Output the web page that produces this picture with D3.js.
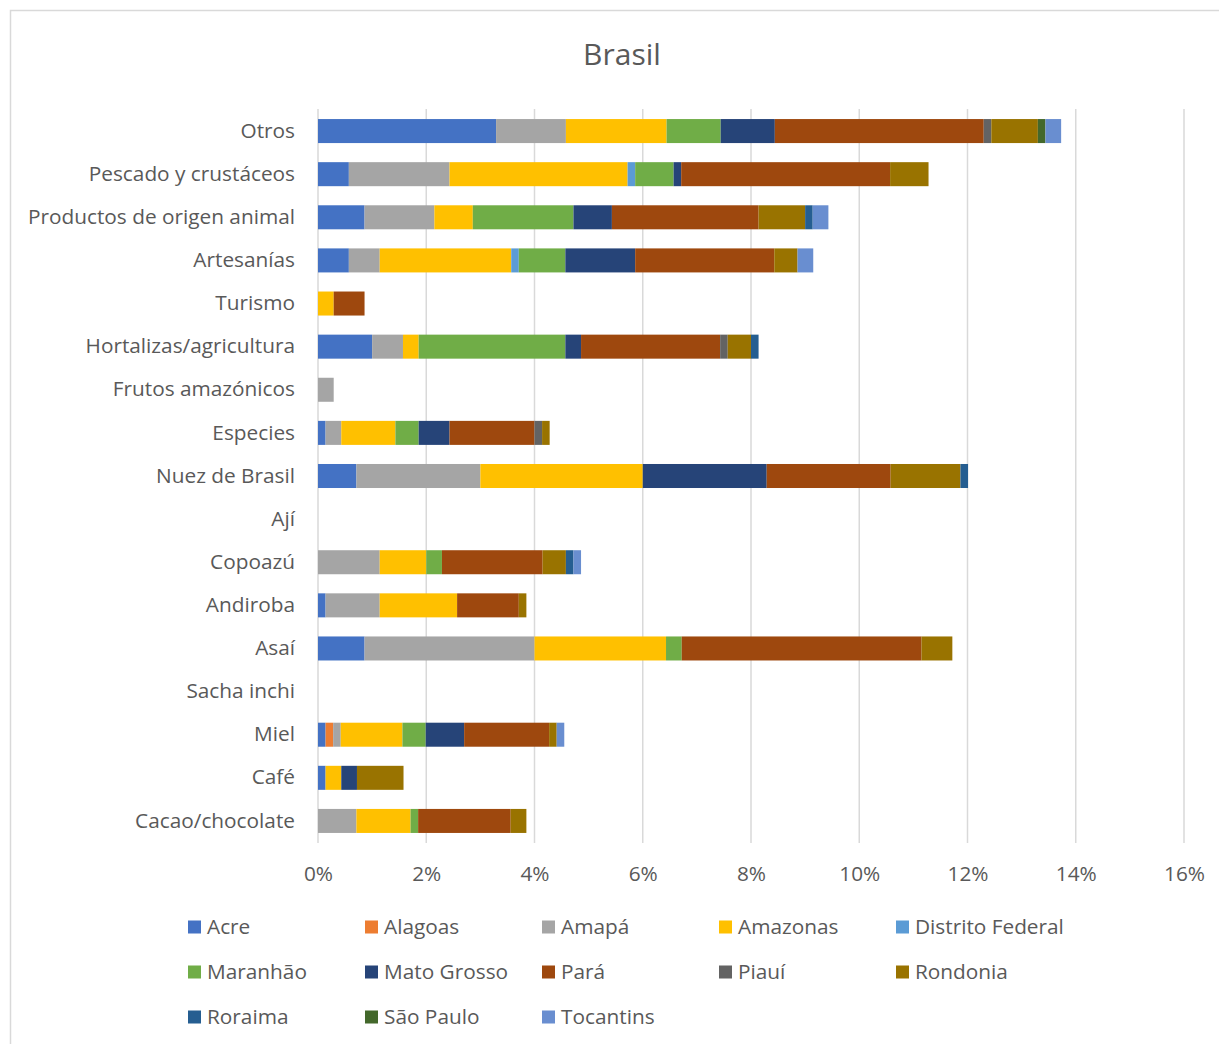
<!DOCTYPE html>
<html><head><meta charset="utf-8">
<script src="https://cdn.jsdelivr.net/npm/d3@7"></script>
<style>body{margin:0;background:#fff;} text{font-family:"Open Sans",sans-serif;fill:#595959;}</style>
</head><body>
<svg id="c" width="1219" height="1044"></svg>
<script>
const categories = ["Otros","Pescado y crustáceos","Productos de origen animal","Artesanías","Turismo","Hortalizas/agricultura","Frutos amazónicos","Especies","Nuez de Brasil","Ají","Copoazú","Andiroba","Asaí","Sacha inchi","Miel","Café","Cacao/chocolate"];
const states = ["Acre","Alagoas","Amapá","Amazonas","Distrito Federal","Maranhão","Mato Grosso","Pará","Piauí","Rondonia","Roraima","São Paulo","Tocantins"];
const colors = ["#4472C4","#ED7D31","#A5A5A5","#FFC000","#5B9BD5","#70AD47","#264478","#9E480E","#636363","#997300","#255E91","#43682B","#698ED0"];
// values in %, one per category (same order as categories)
const acre        = [3.29,0.57,0.86,0.57,0,1.00,0,0.14,0.71,0,0,0.14,0.86,0,0.14,0.14,0];
const alagoas     = [0,0,0,0,0,0,0,0,0,0,0,0,0,0,0.14,0,0];
const amapa       = [1.29,1.86,1.29,0.57,0,0.57,0.29,0.29,2.29,0,1.14,1.00,3.14,0,0.14,0,0.71];
const amazonas    = [1.86,3.29,0.71,2.43,0.29,0.29,0,1.00,3.00,0,0.86,1.43,2.43,0,1.14,0.29,1.00];
const distrito    = [0,0.14,0,0.14,0,0,0,0,0,0,0,0,0,0,0,0,0];
const maranhao    = [1.00,0.71,1.86,0.86,0,2.71,0,0.43,0,0,0.29,0,0.29,0,0.43,0,0.14];
const matoGrosso  = [1.00,0.14,0.71,1.29,0,0.29,0,0.57,2.29,0,0,0,0,0,0.71,0.29,0];
const para        = [3.86,3.86,2.71,2.57,0.57,2.57,0,1.57,2.29,0,1.86,1.14,4.43,0,1.57,0,1.71];
const piaui       = [0.14,0,0,0,0,0.14,0,0.14,0,0,0,0,0,0,0,0,0];
const rondonia    = [0.86,0.71,0.86,0.43,0,0.43,0,0.14,1.29,0,0.43,0.14,0.57,0,0.14,0.86,0.29];
const roraima     = [0,0,0.14,0,0,0.14,0,0,0.14,0,0.14,0,0,0,0,0,0];
const saoPaulo    = [0.14,0,0,0,0,0,0,0,0,0,0,0,0,0,0,0,0];
const tocantins   = [0.29,0,0.29,0.29,0,0,0,0,0,0,0.14,0,0,0,0.14,0,0];
const seriesValues = [acre,alagoas,amapa,amazonas,distrito,maranhao,matoGrosso,para,piaui,rondonia,roraima,saoPaulo,tocantins];
const xTicks = [0,2,4,6,8,10,12,14,16];
const tickLabels = ["0%","2%","4%","6%","8%","10%","12%","14%","16%"];
const title = "Brasil";

const FONT = "'Open Sans',sans-serif";
const svg = d3.select("#c");
svg.append("rect").attr("x",10.5).attr("y",10.5).attr("width",1215).attr("height",1050)
  .attr("fill","#fff").attr("stroke","#d9d9d9").attr("stroke-width",1.5);

const x = d3.scaleLinear().domain([0,16]).range([318,1184]);
const y = d3.scaleBand().domain(categories).range([109.5,842.5]).paddingInner(0.443).paddingOuter(0.2215);

// gridlines
svg.append("g").selectAll("line").data(xTicks).join("line")
  .attr("x1",d=>x(d)).attr("x2",d=>x(d)).attr("y1",109).attr("y2",843)
  .attr("stroke","#d9d9d9").attr("stroke-width",1.5);

// stacked data
const table = categories.map((c,i)=>{const o={cat:c}; states.forEach((s,j)=>o[s]=seriesValues[j][i]); return o;});
const stack = d3.stack().keys(states)(table);
const color = d3.scaleOrdinal().domain(states).range(colors);

svg.append("g").selectAll("g").data(stack).join("g").attr("fill",d=>color(d.key))
  .selectAll("rect").data(d=>d.filter(p=>p[1]-p[0]>0)).join("rect")
  .attr("x",d=>x(d[0])).attr("width",d=>x(d[1])-x(d[0]))
  .attr("y",d=>y(d.data.cat)).attr("height",y.bandwidth());

// category labels
const yAxis = d3.axisLeft(y).tickSize(0).tickPadding(0);
const ya = svg.append("g").attr("transform","translate(295,0)").call(yAxis);
ya.select(".domain").remove();
ya.selectAll("text").attr("font-size","20.8px").style("font-family",FONT).attr("fill","#595959");

// x axis labels
const xAxis = d3.axisBottom(x).tickValues(xTicks).tickFormat((d,i)=>tickLabels[i]).tickSize(0).tickPadding(0);
const xa = svg.append("g").attr("transform","translate(0,866)").call(xAxis);
xa.select(".domain").remove();
xa.selectAll("text").attr("font-size","20.8px").style("font-family",FONT).attr("fill","#595959");

// title
svg.append("text").attr("x",622).attr("y",65).attr("text-anchor","middle").attr("font-size","30px").text(title);

// legend
const legX = d3.scaleLinear().domain([0,4]).range([188,896]);
const legY = d3.scaleLinear().domain([0,2]).range([927,1017]);
const lg = svg.append("g").selectAll("g").data(states).join("g")
  .attr("transform",(d,i)=>`translate(${legX(i%5)},${legY(Math.floor(i/5))})`);
lg.append("rect").attr("x",0).attr("y",-6.5).attr("width",13).attr("height",13).attr("fill",d=>color(d));
lg.append("text").attr("x",19).attr("y",0).attr("dy","0.35em").attr("font-size","20.8px").text(d=>d);
</script>
</body></html>
